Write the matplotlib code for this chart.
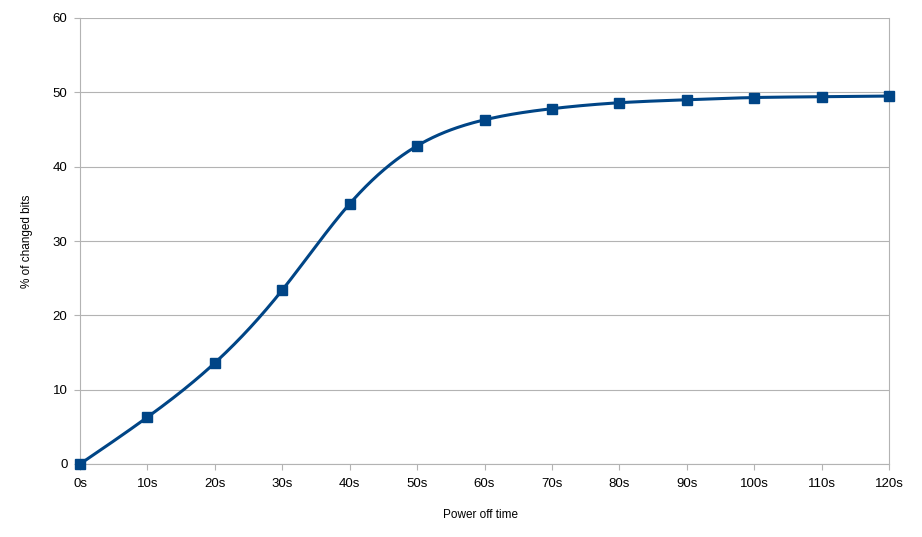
import numpy as np
import matplotlib
matplotlib.use('Agg')
import matplotlib.pyplot as plt

plt.rcParams['font.family'] = ['Liberation Sans', 'DejaVu Sans']

# power off time (s) and % of changed bits
times = [0, 10, 20, 30, 40, 50, 60, 70, 80, 90, 100, 110, 120]
changed = [0.0, 6.3, 13.6, 23.4, 35.0, 42.8, 46.3, 47.8, 48.6, 49.0, 49.3, 49.4, 49.5]
tick_labels = [f"{t}s" for t in times]


def natural_spline(x, y, n=400):
    # natural cubic spline, only used to draw a smooth line through the points
    x = np.asarray(x, float)
    y = np.asarray(y, float)
    k = len(x)
    h = np.diff(x)
    A = np.zeros((k, k))
    b = np.zeros(k)
    A[0, 0] = A[-1, -1] = 1
    for i in range(1, k - 1):
        A[i, i - 1] = h[i - 1]
        A[i, i] = 2 * (h[i - 1] + h[i])
        A[i, i + 1] = h[i]
        b[i] = 6 * ((y[i + 1] - y[i]) / h[i] - (y[i] - y[i - 1]) / h[i - 1])
    M = np.linalg.solve(A, b)
    xs = np.linspace(x[0], x[-1], n)
    idx = np.clip(np.searchsorted(x, xs) - 1, 0, k - 2)
    x0, x1 = x[idx], x[idx + 1]
    hh = x1 - x0
    t0, t1 = x1 - xs, xs - x0
    ys = (M[idx] * t0**3 + M[idx + 1] * t1**3) / (6 * hh) \
        + (y[idx] / hh - M[idx] * hh / 6) * t0 \
        + (y[idx + 1] / hh - M[idx + 1] * hh / 6) * t1
    return xs, ys


color = '#004586'
fig = plt.figure(figsize=(9.22, 5.37), dpi=100)
ax = fig.add_axes([80 / 922, 73 / 537, 809 / 922, 446 / 537])

xs, ys = natural_spline(times, changed)
ax.plot(xs, ys, color=color, lw=2.2, zorder=3)
ax.plot(times, changed, linestyle='none', marker='s', markersize=7,
        color=color, markeredgecolor=color, zorder=4, clip_on=False)

ax.set_xlim(0, 120)
ax.set_ylim(0, 60)
ax.set_xticks(times)
ax.set_xticklabels(tick_labels)
ax.set_yticks(range(0, 61, 10))
ax.yaxis.grid(True, color='#b3b3b3', lw=0.8)
ax.set_axisbelow(True)
for side in ['left', 'right', 'bottom']:
    ax.spines[side].set_color('#b3b3b3')
    ax.spines[side].set_linewidth(0.8)
ax.spines['top'].set_visible(False)
ax.tick_params(axis='both', colors='#b3b3b3', labelcolor='black',
               labelsize=9.5, length=4, width=0.8, direction='out')
ax.tick_params(axis='x', pad=6)
ax.tick_params(axis='y', pad=5)

ax.set_xlabel('Power off time', fontsize=8.5)
ax.set_ylabel('% of changed bits', fontsize=8.5)
ax.xaxis.set_label_coords(0.495, -0.1)
ax.yaxis.set_label_coords(-0.058, 0.5)

fig.savefig('out.png', dpi=100)
